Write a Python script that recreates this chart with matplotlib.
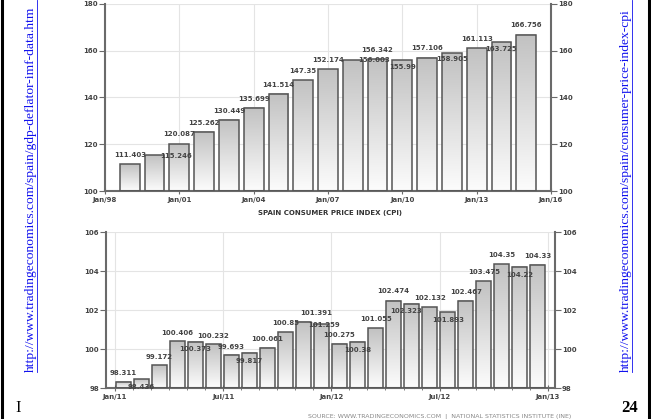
import numpy as np
import matplotlib
matplotlib.use('Agg')
import matplotlib.pyplot as plt
from matplotlib.colors import LinearSegmentedColormap
from matplotlib.lines import Line2D

# yearly CPI (top chart), bars at Jan of each year
years = list(range(1999, 2016))
cpi_yearly = [111.403, 115.246, 120.087, 125.262, 130.449, 135.699, 141.514, 147.35,
              152.174, 156.003, 156.342, 155.99, 157.106, 158.905, 161.113, 163.725, 166.756]
year_ticks = [1998, 2001, 2004, 2007, 2010, 2013, 2016]
year_labels = ['Jan/98', 'Jan/01', 'Jan/04', 'Jan/07', 'Jan/10', 'Jan/13', 'Jan/16']

# monthly CPI Jan/11 .. Dec/12 (bottom chart)
cpi_monthly = [98.311, 98.436, 99.172, 100.406, 100.373, 100.232, 99.693, 99.817,
               100.061, 100.85, 101.391, 101.259, 100.275, 100.38, 101.055, 102.474,
               102.323, 102.132, 101.893, 102.467, 103.475, 104.35, 104.22, 104.33]
month_ticks = [0, 6, 12, 18, 24]
month_labels = ['Jan/11', 'Jul/11', 'Jan/12', 'Jul/12', 'Jan/13']

# label placement (pixel offsets from bar top), layout only
top_lbl_off = [(0, 9), (22, -1), (0, 10), (0, 9), (0, 9), (0, 9), (0, 9), (0, 9), (0, 9),
               (21, 0), (0, 9), (0, -7), (0, 10), (0, -6), (0, 9), (0, -7), (0, 10)]
bot_lbl_off = [(0, 9), (0, -8), (0, 8), (0, 8), (0, -7), (0, 8), (0, 8), (0, -8),
               (0, 9), (0, 9), (13, 9), (3, -1), (0, 9), (0, -8), (0, 9), (0, 10),
               (-6, -7), (0, 9), (0, -8), (0, 9), (0, 9), (0, 9), (0, -8), (0, 9)]

W, H = 651, 419
PX = 72.0 / 100  # points per pixel

grad_cmap = LinearSegmentedColormap.from_list('g', ['#fcfcfc', '#c2c2c2'])
txt_col = '#444444'
spine_col = '#6a6a6a'
link_col = '#1010ee'


def fig_rect(l, t, r, b):
    return [l / W, 1 - b / H, (r - l) / W, (b - t) / H]


def draw_bars(ax, xs, vals, width, base, offsets, fmt):
    grad = np.linspace(0, 1, 64).reshape(-1, 1)
    for x, v, (dx, dy) in zip(xs, vals, offsets):
        ax.imshow(grad, extent=[x - width / 2, x + width / 2, base, v], origin='lower',
                  cmap=grad_cmap, aspect='auto', zorder=2)
        ax.bar(x, v - base, width, bottom=base, facecolor='none', edgecolor='#555555',
               linewidth=1.1, zorder=3)
        ax.annotate(fmt(v), (x, v), xytext=(dx * PX, dy * PX), textcoords='offset points',
                    ha='center', va='center', fontsize=5, fontweight='bold', color=txt_col,
                    zorder=4)


def style_axes(ax):
    for s in ['left', 'right', 'bottom']:
        ax.spines[s].set_color(spine_col)
        ax.spines[s].set_linewidth(1.5)
    ax.spines['top'].set_visible(False)
    ax.tick_params(axis='y', which='both', left=True, right=True, labelleft=True,
                   labelright=True, length=4, width=0.8, color=spine_col, pad=1,
                   labelsize=5, labelcolor=txt_col)
    ax.tick_params(axis='x', which='major', direction='inout', length=5, width=0.8,
                   color=spine_col, pad=2, labelsize=5, labelcolor=txt_col)
    for lbl in ax.get_xticklabels() + ax.get_yticklabels():
        lbl.set_fontweight('bold')
    ax.grid(True, color='#e4e4e4', linewidth=0.8, zorder=0)
    ax.set_axisbelow(True)
    ax.set_facecolor('white')


def fmt_val(v):
    return ('%.3f' % v).rstrip('0').rstrip('.')


fig = plt.figure(figsize=(W / 100, H / 100), dpi=100)

# top chart
ax1 = fig.add_axes(fig_rect(105, 4, 551, 191))
draw_bars(ax1, years, cpi_yearly, 0.8, 100, top_lbl_off, fmt_val)
ax1.set_xlim(1998, 2016)
ax1.set_ylim(100, 180)
ax1.set_yticks([100, 120, 140, 160, 180])
ax1.set_xticks(year_ticks)
ax1.set_xticklabels(year_labels)
style_axes(ax1)

# bottom chart
ax2 = fig.add_axes(fig_rect(106, 232, 555, 388))
draw_bars(ax2, [i + 0.45 for i in range(len(cpi_monthly))], cpi_monthly, 0.82, 98,
          bot_lbl_off, fmt_val)
ax2.set_xlim(-0.5, 24.4)
ax2.set_ylim(98, 106)
ax2.set_yticks([98, 100, 102, 104, 106])
ax2.set_xticks(month_ticks)
ax2.set_xticklabels(month_labels)
ax2.set_xticks(range(25), minor=True)
ax2.tick_params(axis='x', which='minor', direction='inout', length=2.5, width=0.6,
                color=spine_col)
style_axes(ax2)

fig.text(330 / W, 1 - 213 / H, 'SPAIN CONSUMER PRICE INDEX (CPI)', ha='center', va='center',
         fontsize=5, fontweight='bold', color='#333333')
fig.text(440 / W, 1 - 416 / H,
         'SOURCE: WWW.TRADINGECONOMICS.COM  |  NATIONAL STATISTICS INSTITUTE (INE)',
         ha='center', va='center', fontsize=4.5, color='#888888')

# page decorations
link_font = dict(family='Liberation Serif', fontsize=9.7, color=link_col, rotation=90,
                 ha='center', va='bottom')
fig.text(30.5 / W, 1 - 372 / H, 'http://www.tradingeconomics.com/spain/gdp-deflator-imf-data.htm',
         **link_font)
fig.text(625.5 / W, 1 - 372 / H, 'http://www.tradingeconomics.com/spain/consumer-price-index-cpi',
         **link_font)
for ux in [37, 632]:
    fig.add_artist(Line2D([ux / W, ux / W], [1 - 372 / H, 1.0], color=link_col, linewidth=0.6))
for bx in [2.0, 648.5]:
    fig.add_artist(Line2D([bx / W, bx / W], [0, 1], color='black', linewidth=2.2))

fig.text(18 / W, 1 - 408 / H, 'I', family='Liberation Serif', fontsize=12, ha='center',
         va='center', color='black')
fig.text(630 / W, 1 - 408 / H, '24', family='Liberation Serif', fontsize=12, ha='center',
         va='center', color='black', fontweight='bold')

fig.savefig('out.png', dpi=100)
